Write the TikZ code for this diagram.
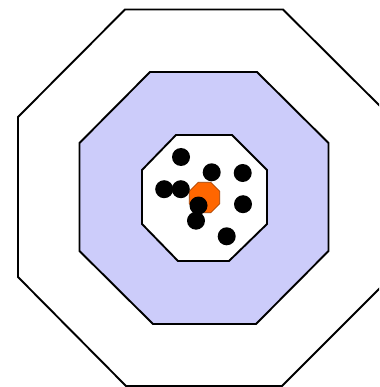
\documentclass[tikz,border=0pt]{standalone}
\usepackage{tikz}
\usetikzlibrary{shapes.geometric}

\definecolor{ringblue}{RGB}{204,204,250}
\definecolor{hotorange}{RGB}{255,102,0}

\begin{document}
\begin{tikzpicture}[x=1pt, y=-1pt,
  ring/.style={draw=black, line width=1.9pt, line join=miter},
  dot/.style={circle, fill=black, inner sep=0pt, minimum size=18pt},
  core/.style={regular polygon, regular polygon sides=8, draw=hotorange!60!black, line width=0.6pt,
    fill=hotorange, inner sep=0pt, minimum size=33pt}
]
  \useasboundingbox (0,0) rectangle (379,387);
  \clip (0,0) rectangle (379,387);

  % rings
  \draw[ring, fill=white] (125,9.5) -- (283,9.5) -- (391,117) -- (391,277)
    -- (282,386) -- (126,386) -- (18,277) -- (18,117) -- cycle;
  \draw[ring, fill=ringblue] (150,72) -- (257,72) -- (328.5,143) -- (328.5,251)
    -- (256,324) -- (153,324) -- (79.5,251) -- (79.5,143) -- cycle;
  \draw[ring, fill=white] (176,135) -- (232,135) -- (267,170) -- (267,224)
    -- (229,261) -- (178,261) -- (142,224) -- (142,170) -- cycle;

  % centre
  \node[core] (c) at (204.5,197.5) {};

  % points
  \foreach \x/\y [count=\i] in {181/157, 211.7/172.3, 242.7/173, 164.2/189.2, 180.8/189.2,
      198.5/205.5, 243/204.2, 196/220.7, 226.7/236.3}
    \node[dot] (p\i) at (\x,\y) {};
\end{tikzpicture}
\end{document}
